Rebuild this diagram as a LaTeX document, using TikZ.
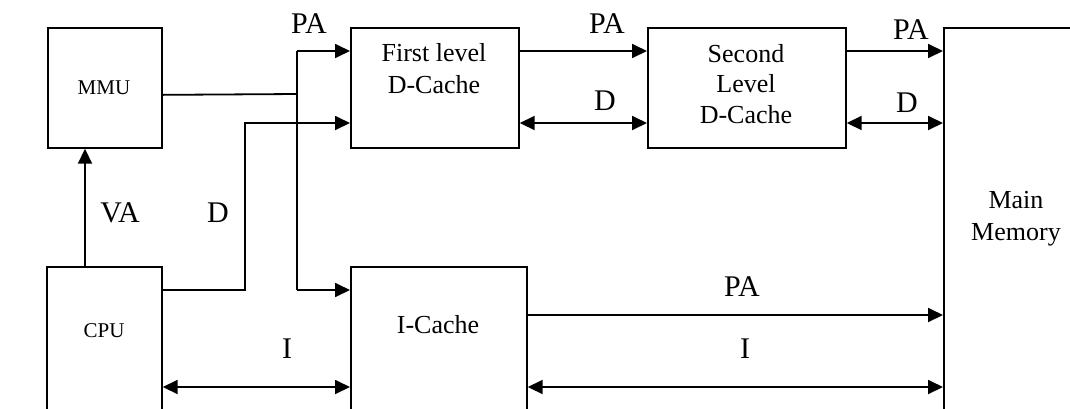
\documentclass[tikz,border=0pt]{standalone}
\usepackage{fontspec}
\setmainfont{Liberation Serif}
\usetikzlibrary{arrows.meta}
\tikzset{
  box/.style={draw, line width=1.7pt, inner sep=0pt, anchor=north west},
  boxtext/.style={inner sep=0pt, align=center, font=\fontsize{26}{32}\selectfont},
  smalltext/.style={inner sep=0pt, anchor=base, font=\fontsize{21}{25}\selectfont},
  lbl/.style={inner sep=0pt, anchor=base, font=\fontsize{30}{36}\selectfont},
  wire/.style={line width=1.8pt},
  arr/.style={wire, -{Triangle[length=15pt,width=14pt]}},
  darr/.style={wire, {Triangle[length=15pt,width=14pt]}-{Triangle[length=15pt,width=14pt]}}
}
\begin{document}
\begin{tikzpicture}[x=1pt, y=-1pt]
\useasboundingbox (0,0) rectangle (1070,408);
\clip (0,0) rectangle (1070,408);

% units
\node[box, minimum width=114pt, minimum height=120pt] (mmu) at (47,27) {};
\node[box, minimum width=115pt, minimum height=200pt] (cpu) at (46,266) {};
\node[box, minimum width=168pt, minimum height=120pt] (l1) at (350,27) {};
\node[box, minimum width=198pt, minimum height=120pt] (l2) at (647,27) {};
\node[box, minimum width=176pt, minimum height=200pt] (ic) at (350,266) {};
\node[box, minimum width=200pt, minimum height=450pt] (mm) at (943,27) {};

% unit names
\node[smalltext] (mmutxt) at (104,94) {MMU};
\node[smalltext] (cputxt) at (104,337) {CPU};
\node[boxtext] (l1txt) at (434,69) {First level\\D-Cache};
\node[boxtext, font=\fontsize{26}{30.5}\selectfont] (l2txt) at (746,84) {Second\\Level\\D-Cache};
\node[boxtext, anchor=base] (ictxt) at (438,333) {I-Cache};
\node[boxtext] (mmtxt) at (1016,219) {Main\\Memory};

% signal rows
\coordinate (rowPA) at (0,51);
\coordinate (rowD) at (0,123);
\coordinate (rowIA) at (0,290);
\coordinate (rowPB) at (0,315);
\coordinate (rowI) at (0,387);
\coordinate (bus) at (297,94);
\coordinate (dturn) at (245,290);

% CPU -> MMU
\draw[arr] ([xshift=39pt]cpu.north west) -- ([xshift=38pt]mmu.south west);

% physical address bus from the MMU
\draw[wire] ([yshift=-7pt]mmu.east) -- (bus);
\draw[wire] (bus |- rowPA) -- (bus |- rowIA);
\draw[arr] (bus |- rowPA) -- (l1.west |- rowPA);
\draw[arr] (bus |- rowIA) -- (ic.west |- rowIA);

% data from the CPU
\draw[arr] (cpu.east |- dturn) -- (dturn) |- (l1.west |- rowD);

% D-cache hierarchy
\draw[arr] (l1.east |- rowPA) -- (l2.west |- rowPA);
\draw[darr] (l1.east |- rowD) -- (l2.west |- rowD);
\draw[arr] (l2.east |- rowPA) -- (mm.west |- rowPA);
\draw[darr] (l2.east |- rowD) -- (mm.west |- rowD);

% instruction path
\draw[darr] (cpu.east |- rowI) -- (ic.west |- rowI);
\draw[arr] (ic.east |- rowPB) -- (mm.west |- rowPB);
\draw[darr] (ic.east |- rowI) -- (mm.west |- rowI);

% signal labels
\node[lbl] (pa1) at (309,33) {PA};
\node[lbl] (pa2) at (607,33) {PA};
\node[lbl] (d2) at (605,110) {D};
\node[lbl] (pa3) at (911,39) {PA};
\node[lbl] (d3) at (907,112) {D};
\node[lbl] (va) at (120,222) {VA};
\node[lbl] (d1) at (218,222) {D};
\node[lbl] (pa4) at (742,296) {PA};
\node[lbl] (i1) at (287,358) {I};
\node[lbl] (i2) at (745,358) {I};
\end{tikzpicture}
\end{document}
